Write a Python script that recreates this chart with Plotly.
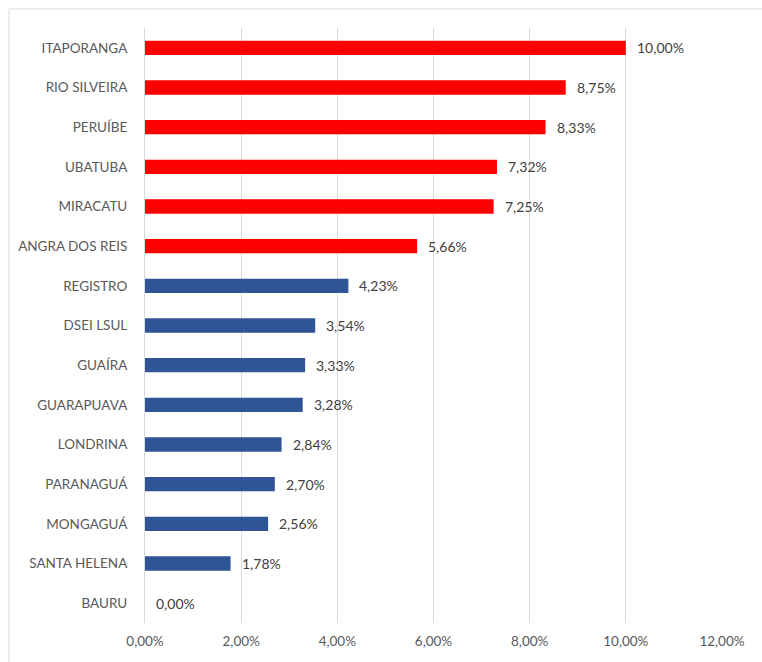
import plotly.graph_objects as go

categories = ["ITAPORANGA", "RIO SILVEIRA", "PERUÍBE", "UBATUBA", "MIRACATU",
              "ANGRA DOS REIS", "REGISTRO", "DSEI LSUL", "GUAÍRA", "GUARAPUAVA",
              "LONDRINA", "PARANAGUÁ", "MONGAGUÁ", "SANTA HELENA", "BAURU"]
values = [0.1000, 0.0875, 0.0833, 0.0732, 0.0725, 0.0566, 0.0423, 0.0354,
          0.0333, 0.0328, 0.0284, 0.0270, 0.0256, 0.0178, 0.0000]
highlight_count = 6
red = "#FF0000"
blue = "#2F5597"
colors = [red if i < highlight_count else blue for i in range(len(categories))]

W, H = 762, 662
ml, mr, mt, mb = 145, 40, 28, 39
pw = W - ml - mr
ph = H - mt - mb
FONT = "Lato, Open Sans, sans-serif"

fig = go.Figure(go.Bar(
    y=categories, x=values, orientation="h",
    marker=dict(color=colors, line=dict(width=0)),
    width=0.36,
    hoverinfo="skip",
))

for c, v in zip(categories, values):
    fig.add_annotation(x=v, y=c, text=f"{v:.2%}".replace(".", ","),
                       xanchor="left", xshift=9, showarrow=False,
                       font=dict(size=14, color="#404040", family=FONT))

fig.update_layout(
    width=W, height=H,
    margin=dict(l=ml, r=mr, t=mt, b=mb),
    paper_bgcolor="white", plot_bgcolor="white",
    separators=",.",
    showlegend=False,
    bargap=0.64,
    font=dict(family=FONT, size=14, color="#595959"),
    xaxis=dict(range=[0, 0.12], dtick=0.02, tickformat=".2%",
               showgrid=True, gridcolor="#D9D9D9", gridwidth=1,
               zeroline=False, showline=False, ticks="",
               tickfont=dict(size=13.5, color="#595959"), ticklabelstandoff=8),
    yaxis=dict(autorange="reversed", showgrid=False, zeroline=False,
               showline=True, linecolor="#D9D9D9", linewidth=1, ticks="",
               tickfont=dict(size=13.5, color="#595959"), ticklabelstandoff=14),
)

fig.add_shape(type="rect", xref="paper", yref="paper",
              x0=(9 - ml) / pw, x1=(W + 5 - ml) / pw,
              y0=-(H + 5 - (H - mb)) / ph, y1=1 + (mt - 9) / ph,
              line=dict(color="#D9D9D9", width=1), fillcolor="rgba(0,0,0,0)", layer="below")

fig.write_html("out.html")
